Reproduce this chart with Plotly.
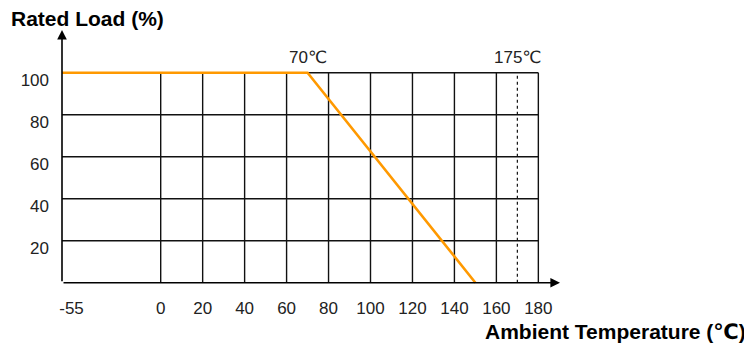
import plotly.graph_objects as go

# ---------------- data ----------------
temps = [-55, 70, 150]          # derating curve, temperature (°C)
loads = [100, 100, 0]           # rated load (%)
x_tick_vals = [-55, 0, 20, 40, 60, 80, 100, 120, 140, 160, 180]
x_tick_text = ["-55", "0", "20", "40", "60", "80", "100", "120", "140", "160", "180"]
y_tick_vals = [20, 40, 60, 80, 100]
y_tick_text = ["20", "40", "60", "80", "100"]
grid_x = [0, 20, 40, 60, 80, 100, 120, 140, 160, 180]
grid_y = [20, 40, 60, 80, 100]
knee_temp, knee_label = 70, "70℃"
max_temp_pos, max_label = 170, "175℃"   # dashed marker as drawn in the picture

# ---------------- scale / layout ----------------
PAGE_OFF = 8                      # default body margin of the html page
W, H = 752 - PAGE_OFF, 357 - PAGE_OFF
X0_PX, PX_PER_DEG = 160.7 - PAGE_OFF, 2.098
Y0_PX, PX_PER_PCT = 282.7 - PAGE_OFF, 2.1
ML, MR, MT, MB = 50, 170, 12, 69
AXIS_LEFT = (62 - PAGE_OFF - X0_PX) / PX_PER_DEG        # broken axis: -55 sits at the axis
X_ARROW = (560 - PAGE_OFF - X0_PX) / PX_PER_DEG
Y_ARROW = (Y0_PX - (30 - PAGE_OFF)) / PX_PER_PCT
XR = [(ML - X0_PX) / PX_PER_DEG, (W - MR - X0_PX) / PX_PER_DEG]
YR = [(Y0_PX - (H - MB)) / PX_PER_PCT, (Y0_PX - MT) / PX_PER_PCT]


def xpos(t):
    return AXIS_LEFT if t < 0 else t


def px2paper_x(px):
    return (px - PAGE_OFF - ML) / (W - ML - MR)


def py2paper_y(py):
    return (H - MB - (py - PAGE_OFF)) / (H - MT - MB)


FONT = "Liberation Sans, Arial, DejaVu Sans, sans-serif"
fig = go.Figure()

# grid
gx, gy = [], []
for v in grid_y:
    gx += [AXIS_LEFT, 180, None]
    gy += [v, v, None]
for v in grid_x:
    gx += [v, v, None]
    gy += [0, 100, None]
fig.add_trace(go.Scatter(x=gx, y=gy, mode="lines", line=dict(color="#111111", width=1.4),
                         hoverinfo="skip", showlegend=False))

# dashed max temperature line
fig.add_trace(go.Scatter(x=[max_temp_pos, max_temp_pos], y=[0, 100], mode="lines",
                         line=dict(color="#111111", width=1.2, dash="dot"),
                         hoverinfo="skip", showlegend=False))

# derating curve
fig.add_trace(go.Scatter(x=[xpos(t) for t in temps], y=loads, mode="lines",
                         line=dict(color="#FF9900", width=2.6),
                         showlegend=False))

# axes with arrows
fig.add_annotation(x=X_ARROW, y=0, ax=AXIS_LEFT, ay=0, xref="x", yref="y", axref="x", ayref="y",
                   showarrow=True, arrowhead=2, arrowsize=1.2, arrowwidth=1.6, arrowcolor="black", text="")
fig.add_annotation(x=AXIS_LEFT, y=Y_ARROW, ax=AXIS_LEFT, ay=0, xref="x", yref="y", axref="x", ayref="y",
                   showarrow=True, arrowhead=2, arrowsize=1.2, arrowwidth=1.6, arrowcolor="black", text="")

# labels above the top line
for xv, txt in [(knee_temp, knee_label), (max_temp_pos, max_label)]:
    fig.add_annotation(x=xv, y=100, xref="x", yref="y", text=txt, showarrow=False,
                       yanchor="bottom", yshift=4, font=dict(family=FONT, size=17, color="#222"))

# titles
fig.add_annotation(x=px2paper_x(9), y=py2paper_y(19), xref="paper", yref="paper",
                   text="<b>Rated Load (%)</b>", showarrow=False, xanchor="left", yanchor="middle",
                   font=dict(family=FONT, size=21, color="black"))
fig.add_annotation(x=px2paper_x(748), y=py2paper_y(331), xref="paper", yref="paper",
                   text="<b>Ambient Temperature (℃)</b>", showarrow=False, xanchor="right", yanchor="middle",
                   font=dict(family=FONT, size=21, color="black"))

x_label_pos = [AXIS_LEFT + 9.5 / PX_PER_DEG if t < 0 else t for t in x_tick_vals]

fig.update_layout(
    width=W, height=H,
    margin=dict(l=ML, r=MR, t=MT, b=MB, autoexpand=False),
    plot_bgcolor="white", paper_bgcolor="white",
    xaxis=dict(range=XR, showgrid=False, zeroline=False, showline=False, ticks="",
               automargin=False, tickmode="array", tickvals=x_label_pos, ticktext=x_tick_text,
               ticklabelstandoff=8, tickfont=dict(family=FONT, size=17, color="#222")),
    yaxis=dict(range=YR, showgrid=False, zeroline=False, showline=False, ticks="",
               automargin=False, tickmode="array", tickvals=y_tick_vals, ticktext=y_tick_text,
               ticklabelstandoff=8, ticklabelshift=7,
               tickfont=dict(family=FONT, size=17, color="#222")),
)

fig.write_html("out.html")
